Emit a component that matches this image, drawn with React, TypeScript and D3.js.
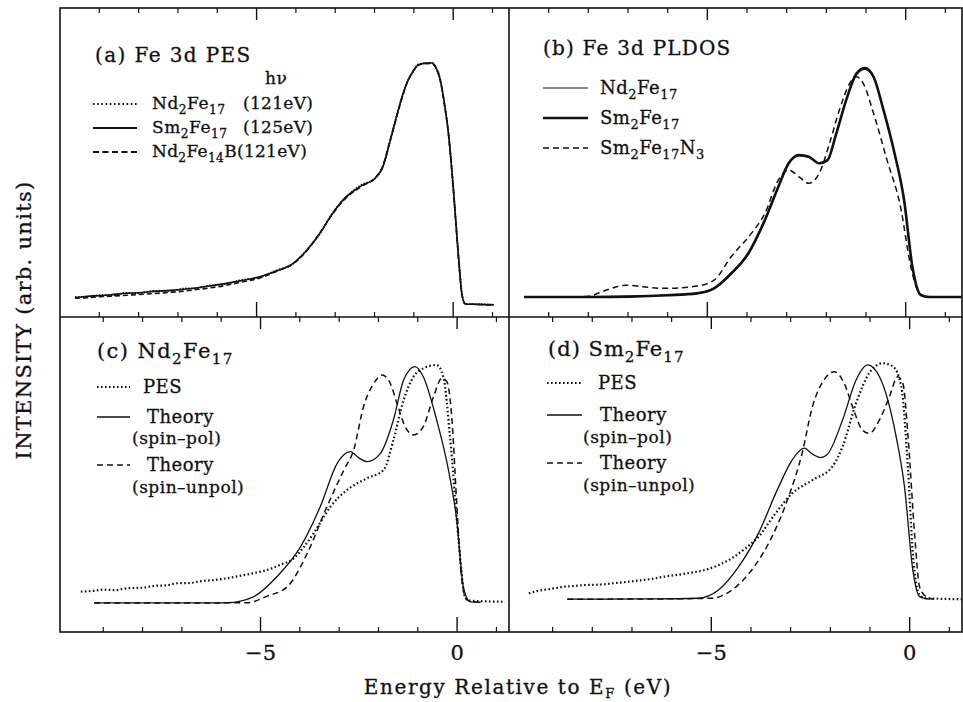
import * as d3 from 'd3';

type Pt = [number, number];

const FONT = '"DejaVu Serif", "Liberation Serif", serif';
const INK = '#111';

// x ticks (eV)
const MINOR_TICKS = [-9, -8, -7, -6, -4, -3, -2, -1, 1];
const MAJOR_TICKS = [-5, 0];
const TICK_LABELS = ['−5', '0'];

// (a) Fe 3d PES
const pesNd2Fe17: Pt[] = [
  [-9.62, 0.032], [-9.3, 0.034], [-9.0, 0.040], [-8.7, 0.040], [-8.3, 0.050], [-8.0, 0.049],
  [-7.6, 0.058], [-7.2, 0.058], [-6.8, 0.068], [-6.6, 0.068], [-6.2, 0.080], [-5.8, 0.087],
  [-5.4, 0.102], [-4.9, 0.116], [-4.5, 0.142], [-4.07, 0.170], [-3.7, 0.232], [-3.39, 0.294],
  [-3.1, 0.372], [-2.8, 0.432], [-2.37, 0.492], [-1.95, 0.528], [-1.8, 0.568], [-1.6, 0.678],
  [-1.44, 0.781], [-1.3, 0.858], [-1.18, 0.918], [-1.0, 0.968], [-0.89, 0.994], [-0.7, 0.998],
  [-0.54, 1.0], [-0.45, 0.983], [-0.33, 0.932], [-0.22, 0.828], [-0.12, 0.71], [0.0, 0.49],
  [0.09, 0.296], [0.16, 0.15], [0.22, 0.048], [0.31, 0.004], [0.6, 0.003], [1.03, 0.001],
];
const pesSm2Fe17: Pt[] = [
  [-9.62, 0.030], [-9.3, 0.036], [-9.0, 0.038], [-8.7, 0.042], [-8.3, 0.048], [-8.0, 0.050],
  [-7.6, 0.056], [-7.2, 0.060], [-6.8, 0.066], [-6.6, 0.069], [-6.2, 0.078], [-5.8, 0.088],
  [-5.4, 0.100], [-4.9, 0.117], [-4.5, 0.140], [-4.07, 0.172], [-3.7, 0.23], [-3.39, 0.296],
  [-3.1, 0.37], [-2.8, 0.434], [-2.37, 0.489], [-1.95, 0.530], [-1.8, 0.565], [-1.6, 0.68],
  [-1.44, 0.778], [-1.3, 0.86], [-1.18, 0.916], [-1.0, 0.970], [-0.89, 0.992], [-0.7, 1.0],
  [-0.54, 1.0], [-0.45, 0.985], [-0.33, 0.930], [-0.22, 0.83], [-0.12, 0.709], [0.0, 0.49],
  [0.09, 0.296], [0.16, 0.15], [0.22, 0.048], [0.31, 0.004], [0.6, 0.002], [1.03, 0],
];
const pesNd2Fe14B: Pt[] = [
  [-9.62, 0.028], [-9.3, 0.030], [-9.0, 0.034], [-8.7, 0.036], [-8.3, 0.040], [-8.0, 0.043],
  [-7.6, 0.047], [-7.2, 0.052], [-6.8, 0.058], [-6.6, 0.062], [-6.2, 0.070], [-5.8, 0.080],
  [-5.4, 0.094], [-4.9, 0.112], [-4.5, 0.138], [-4.07, 0.170], [-3.7, 0.228], [-3.39, 0.298],
  [-3.1, 0.368], [-2.8, 0.430], [-2.37, 0.486], [-1.95, 0.532], [-1.8, 0.570], [-1.6, 0.684],
  [-1.44, 0.775], [-1.3, 0.856], [-1.18, 0.914], [-1.0, 0.972], [-0.89, 0.990], [-0.7, 0.997],
  [-0.54, 0.998], [-0.45, 0.982], [-0.33, 0.928], [-0.22, 0.826], [-0.12, 0.706], [0.0, 0.486],
  [0.09, 0.29], [0.16, 0.146], [0.22, 0.046], [0.31, 0.004], [0.6, 0.002], [1.03, 0],
];

// (b) Fe 3d PLDOS
const pldosNd2Fe17: Pt[] = [
  [-9.62, 0], [-8.0, 0], [-6.97, 0.003], [-6.0, 0.009], [-5.26, 0.018], [-4.83, 0.040],
  [-4.4, 0.100], [-3.97, 0.186], [-3.55, 0.332], [-3.21, 0.478], [-2.95, 0.580], [-2.69, 0.616],
  [-2.44, 0.610], [-2.18, 0.582], [-1.97, 0.596], [-1.75, 0.712], [-1.5, 0.856], [-1.24, 0.970],
  [-1.03, 0.994], [-0.81, 0.958], [-0.56, 0.814], [-0.3, 0.640], [-0.04, 0.420], [0.17, 0.130],
  [0.38, 0.009], [0.6, 0], [1.41, 0],
];
const pldosSm2Fe17: Pt[] = [
  [-9.62, 0], [-8.0, 0], [-6.97, 0.002], [-6.0, 0.008], [-5.26, 0.016], [-4.83, 0.038],
  [-4.4, 0.103], [-3.97, 0.19], [-3.55, 0.336], [-3.21, 0.482], [-2.95, 0.584], [-2.69, 0.62],
  [-2.44, 0.613], [-2.18, 0.584], [-1.97, 0.598], [-1.75, 0.714], [-1.5, 0.86], [-1.24, 0.976],
  [-1.03, 1.0], [-0.81, 0.962], [-0.56, 0.817], [-0.3, 0.642], [-0.04, 0.424], [0.17, 0.132],
  [0.38, 0.009], [0.6, 0], [1.41, 0],
];
const pldosSm2Fe17N3: Pt[] = [
  [-9.62, 0], [-8.5, 0], [-7.99, 0.004], [-7.56, 0.03], [-7.05, 0.052], [-6.62, 0.045],
  [-6.11, 0.038], [-5.26, 0.048], [-4.83, 0.074], [-4.4, 0.176], [-3.89, 0.278], [-3.55, 0.365],
  [-3.21, 0.511], [-2.95, 0.555], [-2.69, 0.525], [-2.44, 0.497], [-2.18, 0.54], [-1.92, 0.671],
  [-1.67, 0.817], [-1.41, 0.933], [-1.24, 0.962], [-1.07, 0.933], [-0.81, 0.802], [-0.47, 0.598],
  [-0.13, 0.394], [0.13, 0.132], [0.34, 0.016], [0.5, 0],
];

// (c) Nd2Fe17
const ndPes: Pt[] = [
  [-9.57, 0.048], [-9.3, 0.050], [-9.0, 0.056], [-8.7, 0.054], [-8.38, 0.062], [-8.0, 0.064],
  [-7.7, 0.072], [-7.4, 0.074], [-7.11, 0.083], [-6.8, 0.084], [-6.5, 0.092], [-6.2, 0.096],
  [-5.85, 0.104], [-5.4, 0.118], [-5.1, 0.128], [-4.83, 0.139], [-4.5, 0.16], [-4.15, 0.188],
  [-3.9, 0.235], [-3.65, 0.293], [-3.22, 0.405], [-2.8, 0.475], [-2.29, 0.524], [-1.87, 0.559],
  [-1.62, 0.685], [-1.36, 0.853], [-1.11, 0.951], [-0.86, 0.986], [-0.52, 1.0], [-0.35, 0.951],
  [-0.18, 0.70], [0.03, 0.279], [0.2, 0.027], [0.33, 0.01], [1.22, 0.005],
];
const ndSpinPol: Pt[] = [
  [-9.23, 0], [-7.0, 0], [-5.85, 0.001], [-5.17, 0.027], [-4.58, 0.111], [-3.98, 0.237],
  [-3.48, 0.405], [-3.05, 0.587], [-2.72, 0.636], [-2.5, 0.61], [-2.29, 0.594], [-1.95, 0.629],
  [-1.62, 0.769], [-1.36, 0.937], [-1.07, 0.993], [-0.86, 0.951], [-0.52, 0.769], [-0.22, 0.559],
  [-0.01, 0.349], [0.16, 0.068], [0.33, 0.005], [0.6, 0.003],
];
const ndSpinUnpol: Pt[] = [
  [-9.23, 0], [-7.0, 0], [-5.34, 0.001], [-4.83, 0.029], [-4.32, 0.068], [-3.81, 0.209],
  [-3.31, 0.405], [-2.88, 0.559], [-2.63, 0.643], [-2.38, 0.825], [-2.12, 0.923], [-1.91, 0.958],
  [-1.70, 0.923], [-1.53, 0.839], [-1.32, 0.741], [-1.11, 0.706], [-0.86, 0.741], [-0.60, 0.867],
  [-0.39, 0.944], [-0.26, 0.93], [-0.13, 0.769], [-0.01, 0.419], [0.12, 0.097], [0.25, 0.013],
  [0.5, 0.003],
];

// (d) Sm2Fe17
const smPes: Pt[] = [
  [-9.6, 0.025], [-9.4, 0.034], [-9.2, 0.040], [-8.95, 0.046], [-8.71, 0.053], [-8.45, 0.056],
  [-8.2, 0.060], [-7.8, 0.062], [-7.44, 0.068], [-7.1, 0.074], [-6.8, 0.080], [-6.5, 0.086],
  [-6.18, 0.096], [-5.9, 0.102], [-5.6, 0.11], [-5.16, 0.124], [-4.8, 0.146], [-4.48, 0.174],
  [-4.15, 0.214], [-3.81, 0.265], [-3.38, 0.364], [-2.96, 0.449], [-2.45, 0.505], [-1.95, 0.562],
  [-1.69, 0.647], [-1.35, 0.831], [-1.02, 0.958], [-0.68, 1.0], [-0.42, 0.986], [-0.21, 0.901],
  [-0.04, 0.548], [0.08, 0.195], [0.25, 0.018], [0.4, 0.004], [1.31, 0],
];
const smSpinPol: Pt[] = [
  [-8.63, 0], [-6.5, 0.001], [-5.33, 0.004], [-4.82, 0.039], [-4.31, 0.138], [-3.81, 0.28],
  [-3.30, 0.477], [-2.96, 0.59], [-2.66, 0.64], [-2.45, 0.615], [-2.25, 0.60], [-2.07, 0.615],
  [-1.69, 0.76], [-1.35, 0.929], [-1.06, 0.993], [-0.76, 0.943], [-0.34, 0.689], [-0.13, 0.477],
  [0.08, 0.124], [0.25, 0.011], [0.5, 0],
];
const smSpinUnpol: Pt[] = [
  [-8.63, 0], [-6.5, 0.001], [-4.99, 0.004], [-4.48, 0.039], [-3.98, 0.124], [-3.47, 0.265],
  [-3.05, 0.435], [-2.71, 0.619], [-2.45, 0.816], [-2.16, 0.929], [-1.90, 0.964], [-1.65, 0.915],
  [-1.44, 0.816], [-1.19, 0.717], [-1.02, 0.703], [-0.76, 0.76], [-0.51, 0.858], [-0.30, 0.943],
  [-0.17, 0.915], [-0.04, 0.689], [0.13, 0.265], [0.25, 0.053], [0.42, 0.01], [0.6, 0],
];

type LineStyle = { width: number; dash?: string };

const DOT: LineStyle = { width: 2.2, dash: '1.6 2.4' };
const SOLID: LineStyle = { width: 1.3 };
const THICK: LineStyle = { width: 2.6 };
const DASH: LineStyle = { width: 1.5, dash: '6 4' };

// frame of the 2x2 grid
const F = { left: 60, right: 962, top: 8, bottom: 632, midX: 509, midY: 317 };

interface Panel {
  x0: number; x1: number; y0: number; y1: number;
  xDomain: [number, number];
  yDomain: [number, number];
  series: { data: Pt[]; style: LineStyle }[];
}

const panels: Panel[] = [
  {
    x0: F.left, x1: F.midX, y0: F.top, y1: F.midY,
    xDomain: [-10.0, 1.42], yDomain: [-0.05, 1.227],
    series: [
      { data: pesNd2Fe14B, style: { width: 1.6, dash: '5 3' } },
      { data: pesNd2Fe17, style: { width: 1.8, dash: '1.5 1.5' } },
      { data: pesSm2Fe17, style: { width: 1.6 } },
    ],
  },
  {
    x0: F.midX, x1: F.right, y0: F.top, y1: F.midY,
    xDomain: [-10.0, 1.42], yDomain: [-0.087, 1.262],
    series: [
      { data: pldosSm2Fe17N3, style: DASH },
      { data: pldosNd2Fe17, style: { width: 1.1 } },
      { data: pldosSm2Fe17, style: THICK },
    ],
  },
  {
    x0: F.left, x1: F.midX, y0: F.midY, y1: F.bottom,
    xDomain: [-10.1, 1.32], yDomain: [-0.122, 1.202],
    series: [
      { data: ndPes, style: DOT },
      { data: ndSpinPol, style: SOLID },
      { data: ndSpinUnpol, style: DASH },
    ],
  },
  {
    x0: F.midX, x1: F.right, y0: F.midY, y1: F.bottom,
    xDomain: [-10.1, 1.32], yDomain: [-0.139, 1.196],
    series: [
      { data: smPes, style: DOT },
      { data: smSpinPol, style: SOLID },
      { data: smSpinUnpol, style: DASH },
    ],
  },
];

const textProps = (size: number, spacing: number) => ({
  fontFamily: FONT,
  fontSize: size,
  fill: INK,
  stroke: INK,
  strokeWidth: 0.3,
  letterSpacing: spacing,
});

// chemical formula: digits become subscripts
function Formula({ x, y, text, size, spacing = 0.5, tail }: { x: number; y: number; text: string; size: number; spacing?: number; tail?: string }) {
  const parts = text.split(/(\d+)/).filter(p => p.length > 0);
  const shift = size * 0.3;
  let down = false;
  return (
    <text x={x} y={y} {...textProps(size, spacing)}>
      {parts.map((p, i) => {
        const isSub = /^\d+$/.test(p);
        let dy = 0;
        if (isSub && !down) { dy = shift; down = true; }
        else if (!isSub && down) { dy = -shift; down = false; }
        return (
          <tspan key={i} dy={dy} fontSize={isSub ? size * 0.72 : size}>{p}</tspan>
        );
      })}
      {tail ? <tspan dy={down ? -shift : 0}>{tail}</tspan> : null}
    </text>
  );
}

function Sample({ x1, x2, y, style }: { x1: number; x2: number; y: number; style: LineStyle }) {
  return (
    <line x1={x1} x2={x2} y1={y} y2={y} stroke={INK} strokeWidth={style.width} strokeDasharray={style.dash} />
  );
}

function Label({ x, y, size, spacing = 0.5, children }: { x: number; y: number; size: number; spacing?: number; children: React.ReactNode }) {
  return (
    <text x={x} y={y} {...textProps(size, spacing)}>{children}</text>
  );
}

function PanelView({ p }: { p: Panel }) {
  const x = d3.scaleLinear().domain(p.xDomain).range([p.x0, p.x1]);
  const y = d3.scaleLinear().domain(p.yDomain).range([p.y1, p.y0]);
  const line = d3.line<Pt>().x(d => x(d[0])).y(d => y(d[1])).curve(d3.curveMonotoneX);
  return (
    <g>
      {p.series.map((s, i) => (
        <path key={i} d={line(s.data) ?? ''} fill="none" stroke={INK}
          strokeWidth={s.style.width} strokeDasharray={s.style.dash}
          strokeLinejoin="round" />
      ))}
      {MINOR_TICKS.map(t => (
        <g key={'m' + t}>
          <line x1={x(t)} x2={x(t)} y1={p.y0} y2={p.y0 + 5} stroke={INK} strokeWidth={1.2} />
          <line x1={x(t)} x2={x(t)} y1={p.y1} y2={p.y1 - 5} stroke={INK} strokeWidth={1.2} />
        </g>
      ))}
      {MAJOR_TICKS.map(t => (
        <g key={'M' + t}>
          <line x1={x(t)} x2={x(t)} y1={p.y0} y2={p.y0 + 12} stroke={INK} strokeWidth={1.4} />
          <line x1={x(t)} x2={x(t)} y1={p.y1} y2={p.y1 - 15} stroke={INK} strokeWidth={1.4} />
        </g>
      ))}
    </g>
  );
}

export default function App() {
  const bottomRow = panels.slice(2);
  return (
    <svg width={963} height={702} style={{ position: 'absolute', left: 0, top: 0, background: '#fff' }}>
      <rect x={0} y={0} width={963} height={702} fill="#fff" />
      {panels.map((p, i) => <PanelView key={i} p={p} />)}

      {/* frame */}
      <rect x={F.left} y={F.top} width={F.right - F.left} height={F.bottom - F.top}
        fill="none" stroke={INK} strokeWidth={1.6} />
      <line x1={F.midX} x2={F.midX} y1={F.top} y2={F.bottom} stroke={INK} strokeWidth={1.6} />
      <line x1={F.left} x2={F.right} y1={F.midY} y2={F.midY} stroke={INK} strokeWidth={1.6} />

      {/* tick labels */}
      {bottomRow.map((p, i) => {
        const x = d3.scaleLinear().domain(p.xDomain).range([p.x0, p.x1]);
        return MAJOR_TICKS.map((t, j) => (
          <text key={i + '-' + j} x={x(t)} y={660} textAnchor="middle" {...textProps(21, 0)}>
            {TICK_LABELS[j]}
          </text>
        ));
      })}

      {/* axis titles */}
      <text x={518} y={694} textAnchor="middle" {...textProps(20, 1.6)}>
        Energy Relative to E<tspan dy={4} fontSize={13}>F</tspan><tspan dy={-4}> (eV)</tspan>
      </text>
      <text transform="translate(31,320) rotate(-90)" textAnchor="middle" {...textProps(21, 1.3)}>
        INTENSITY (arb. units)
      </text>

      {/* (a) legend */}
      <Label x={95} y={62} size={20} spacing={1.4}>(a) Fe 3d PES</Label>
      <Label x={265} y={84} size={17} spacing={0.5}>hν</Label>
      <Sample x1={93} x2={137} y={104} style={{ width: 2, dash: '1.6 2.6' }} />
      <Formula x={152} y={109} text="Nd2Fe17" size={17} />
      <Label x={243} y={109} size={17} spacing={0.3}>(121eV)</Label>
      <Sample x1={93} x2={137} y={128} style={{ width: 1.8 }} />
      <Formula x={152} y={133} text="Sm2Fe17" size={17} />
      <Label x={243} y={133} size={17} spacing={0.3}>(125eV)</Label>
      <Sample x1={93} x2={137} y={152} style={{ width: 1.8, dash: '6 3.5' }} />
      <Formula x={152} y={157} text="Nd2Fe14B" size={17} spacing={0.3} tail="(121eV)" />

      {/* (b) legend */}
      <Label x={543} y={55} size={20} spacing={1.2}>(b) Fe 3d PLDOS</Label>
      <Sample x1={543} x2={588} y={88} style={{ width: 1.1 }} />
      <Formula x={600} y={94} text="Nd2Fe17" size={18} />
      <Sample x1={543} x2={588} y={118} style={THICK} />
      <Formula x={600} y={124} text="Sm2Fe17" size={18} />
      <Sample x1={543} x2={588} y={148} style={DASH} />
      <Formula x={600} y={154} text="Sm2Fe17N3" size={18} />

      {/* (c) legend */}
      <Formula x={97} y={358} text="(c) Nd2Fe17" size={21} spacing={1.4} />
      <Sample x1={97} x2={130} y={387} style={DOT} />
      <Label x={143} y={393} size={18}>PES</Label>
      <Sample x1={97} x2={130} y={417} style={SOLID} />
      <Label x={147} y={423} size={18}>Theory</Label>
      <Label x={132} y={444} size={17}>(spin–pol)</Label>
      <Sample x1={97} x2={130} y={465} style={DASH} />
      <Label x={147} y={471} size={18}>Theory</Label>
      <Label x={132} y={493} size={17}>(spin–unpol)</Label>

      {/* (d) legend */}
      <Formula x={548} y={356} text="(d) Sm2Fe17" size={21} spacing={1} />
      <Sample x1={547} x2={582} y={383} style={DOT} />
      <Label x={598} y={389} size={18}>PES</Label>
      <Sample x1={547} x2={582} y={415} style={SOLID} />
      <Label x={600} y={421} size={18}>Theory</Label>
      <Label x={583} y={443} size={17}>(spin–pol)</Label>
      <Sample x1={547} x2={582} y={463} style={DASH} />
      <Label x={600} y={469} size={18}>Theory</Label>
      <Label x={583} y={491} size={17}>(spin–unpol)</Label>
    </svg>
  );
}
